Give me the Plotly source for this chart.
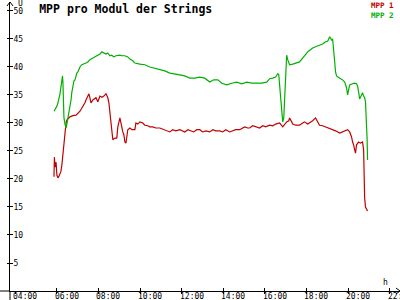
import plotly.graph_objects as go

# ---- data (time in decimal hours, voltage in V) ----
t_mpp1 = [5.86, 5.88, 5.91, 5.96, 6.00, 6.05, 6.10, 6.19, 6.24, 6.29, 6.34, 6.39, 6.44, 6.48, 6.63, 6.77,
          6.92, 7.11, 7.25, 7.35, 7.40, 7.49, 7.54, 7.59, 7.64, 7.73, 7.88, 7.97, 8.07, 8.16, 8.26, 8.36,
          8.45, 8.50, 8.55, 8.60, 8.64, 8.69, 8.79, 8.88, 8.93, 9.03, 9.08, 9.12, 9.17, 9.22, 9.27, 9.32,
          9.36, 9.41, 9.51, 9.61, 9.75, 9.80, 9.89, 9.99, 10.13, 10.23, 10.37, 10.47, 10.61, 10.76, 10.95,
          11.09, 11.19, 11.33, 11.43, 11.57, 11.72, 11.91, 12.05, 12.15, 12.30, 12.44, 12.58, 12.73, 12.87,
          13.01, 13.16, 13.35, 13.50, 13.64, 13.83, 13.98, 14.12, 14.31, 14.46, 14.60, 14.79, 14.94, 15.03,
          15.18, 15.27, 15.42, 15.56, 15.75, 15.90, 16.04, 16.23, 16.38, 16.52, 16.71, 16.86, 16.95, 17.05,
          17.15, 17.19, 17.29, 17.34, 17.48, 17.67, 17.82, 17.91, 18.06, 18.16, 18.30, 18.44, 18.54, 18.63,
          18.78, 18.92, 19.12, 19.26, 19.40, 19.60, 19.74, 19.88, 19.98, 20.08, 20.17, 20.22, 20.27, 20.32,
          20.36, 20.41, 20.51, 20.60, 20.70, 20.75, 20.77, 20.80, 20.84, 20.89, 20.94]
v_mpp1 = [20.4, 23.9, 22.1, 23.0, 20.7, 20.2, 20.5, 21.3, 22.5, 24.6, 27.0, 29.3, 30.0, 30.5, 31.1, 31.3,
          31.4, 32.1, 32.9, 33.6, 34.1, 34.8, 35.2, 34.5, 33.6, 34.1, 34.5, 33.8, 34.8, 34.6, 34.8, 35.2,
          34.5, 33.6, 31.8, 29.6, 27.5, 27.0, 27.3, 27.3, 29.3, 30.9, 30.0, 29.1, 28.4, 27.9, 26.6, 26.4,
          27.9, 28.8, 29.1, 28.8, 28.8, 30.0, 29.8, 30.2, 30.0, 29.6, 29.5, 29.3, 29.3, 29.1, 29.1,
          28.9, 28.8, 28.6, 28.4, 28.8, 28.6, 28.8, 28.6, 28.4, 28.8, 28.6, 28.4, 28.8, 28.8,
          28.4, 28.6, 28.4, 28.8, 28.6, 28.6, 28.4, 28.8, 28.4, 28.6, 28.8, 28.8, 29.1, 29.3,
          29.1, 29.1, 29.5, 29.3, 29.1, 29.5, 29.3, 29.6, 29.5, 29.8, 30.0, 29.3, 29.8, 30.2,
          30.4, 30.9, 30.2, 29.8, 29.6, 29.6, 30.0, 30.2, 29.8, 30.0, 30.4, 30.9, 30.2, 29.6,
          29.5, 29.3, 29.1, 28.8, 28.6, 28.2, 28.4, 28.6, 28.8, 28.4, 27.5, 26.6, 26.1, 25.2,
          24.6, 26.1, 26.6, 26.4, 26.6, 25.2, 20.7, 16.6, 15.0, 14.6, 14.3]

t_mpp2 = [5.86, 5.96, 6.00, 6.05, 6.10, 6.15, 6.19, 6.24, 6.27, 6.29, 6.32, 6.34, 6.39, 6.44, 6.48, 6.53,
          6.58, 6.63, 6.68, 6.72, 6.77, 6.82, 6.87, 6.92, 6.96, 7.01, 7.11, 7.20, 7.30, 7.40, 7.49, 7.59,
          7.73, 7.83, 7.92, 8.07, 8.16, 8.26, 8.36, 8.45, 8.55, 8.64, 8.74, 8.84, 8.93, 9.03, 9.12, 9.27,
          9.41, 9.51, 9.65, 9.75, 9.99, 10.23, 10.47, 10.71, 10.95, 11.19, 11.43, 11.67, 11.91, 12.15,
          12.39, 12.63, 12.87, 13.11, 13.35, 13.54, 13.74, 13.93, 14.17, 14.41, 14.65, 14.89, 15.13,
          15.37, 15.61, 15.85, 16.09, 16.23, 16.38, 16.52, 16.62, 16.67, 16.71, 16.76, 16.81, 16.86,
          16.91, 16.95, 17.00, 17.05, 17.10, 17.19, 17.34, 17.48, 17.58, 17.67, 17.82, 17.91, 18.06,
          18.16, 18.30, 18.44, 18.63, 18.78, 18.92, 19.02, 19.12, 19.16, 19.21, 19.26, 19.31, 19.36,
          19.40, 19.45, 19.60, 19.74, 19.84, 19.93, 19.98, 20.03, 20.08, 20.22, 20.32, 20.41, 20.46,
          20.51, 20.56, 20.60, 20.65, 20.70, 20.75, 20.80, 20.84, 20.89, 20.92, 20.94]
v_mpp2 = [32.1, 32.7, 33.0, 33.6, 34.3, 35.2, 36.3, 37.7, 38.4, 37.3, 34.1, 30.9, 29.8, 29.1, 29.8, 30.9,
          31.8, 32.7, 34.1, 35.5, 36.6, 37.5, 37.7, 38.6, 38.9, 39.1, 40.0, 40.4, 40.5, 40.7, 40.9, 41.3,
          41.6, 41.8, 42.0, 42.3, 42.7, 42.5, 42.3, 42.5, 42.0, 42.1, 41.8, 42.0, 42.1, 42.1, 42.0, 42.0,
          41.8, 41.4, 41.1, 40.7, 40.5, 40.4, 40.0, 39.8, 39.5, 39.3, 38.9, 38.8, 38.6, 38.4,
          38.0, 38.0, 38.2, 38.0, 37.3, 37.7, 37.7, 37.1, 36.8, 37.1, 37.3, 37.0, 37.3,
          37.1, 37.1, 37.1, 37.3, 37.9, 38.0, 38.2, 38.8, 38.6, 36.8, 34.1, 31.4, 30.2,
          30.9, 35.0, 39.5, 42.1, 41.3, 40.4, 40.5, 40.7, 40.9, 40.9, 41.6, 42.1, 42.7,
          43.0, 43.4, 43.6, 43.9, 44.1, 44.5, 44.6, 45.4, 45.2, 44.8, 45.0, 43.4, 40.9,
          39.1, 38.4, 38.0, 37.7, 37.3, 36.3, 35.0, 36.3, 36.8, 37.0, 37.1, 37.0, 36.6,
          35.5, 34.3, 34.6, 35.2, 35.4, 34.8, 34.5, 33.8, 30.2, 27.0, 23.4]

series_names = ["MPP 1", "MPP 2"]
x_tick_vals = [4, 6, 8, 10, 12, 14, 16, 18, 20, 22]
x_tick_text = ["04:00", "06:00", "08:00", "10:00", "12:00", "14:00", "16:00", "18:00", "20:00", "22:00"]
y_tick_vals = [5, 10, 15, 20, 25, 30, 35, 40, 45, 50]

RED = "#c00000"
GREEN = "#00b000"
FONT = "DejaVu Sans Mono"
X_RANGE = [3.745, 22.5]
Y_RANGE = [0, 51.6]

fig = go.Figure()
fig.add_trace(go.Scatter(x=t_mpp1, y=v_mpp1, mode="lines", name=series_names[0],
                         line=dict(color=RED, width=1.2), showlegend=False))
fig.add_trace(go.Scatter(x=t_mpp2, y=v_mpp2, mode="lines", name=series_names[1],
                         line=dict(color=GREEN, width=1.2), showlegend=False))
# invisible trace so the overlaid tick axes get drawn
fig.add_trace(go.Scatter(x=[None], y=[None], xaxis="x2", yaxis="y2", showlegend=False, hoverinfo="skip"))

tickfont = dict(family=FONT, size=8, color="black")
fig.update_layout(
    width=400, height=300,
    margin=dict(l=10, r=0, t=2, b=9, pad=0),
    paper_bgcolor="white", plot_bgcolor="white",
    title=dict(text="<b>MPP pro Modul der Strings</b>", x=0.098, xanchor="left", xref="container",
               y=1 - 8.5 / 300, yanchor="middle", yref="container",
               font=dict(family=FONT, size=11.5, color="black")),
    xaxis=dict(range=X_RANGE, tickvals=x_tick_vals, showticklabels=False, showgrid=False, zeroline=False,
               showline=True, linecolor="black", linewidth=1, ticks="inside", ticklen=3, tickcolor="black",
               automargin=False),
    yaxis=dict(range=Y_RANGE, tickvals=y_tick_vals, showgrid=False, zeroline=False,
               showline=True, linecolor="black", linewidth=1, ticks="outside", ticklen=2, tickcolor="black",
               tickfont=tickfont, ticklabelposition="inside", ticklabelstandoff=2, automargin=False),
    xaxis2=dict(range=X_RANGE, overlaying="x", side="bottom", tickvals=x_tick_vals, showticklabels=False,
                ticks="outside", ticklen=2, tickcolor="black", showgrid=False, zeroline=False, showline=False),
    yaxis2=dict(range=Y_RANGE, overlaying="y", side="left", tickvals=y_tick_vals, showticklabels=False,
                ticks="inside", ticklen=3, tickcolor="black", showgrid=False, zeroline=False, showline=False),
    showlegend=False,
)

# x tick labels, left-aligned at each tick (placed via the x scale)
for tv, tt in zip(x_tick_vals, x_tick_text):
    fig.add_annotation(xref="x", yref="paper", x=tv, y=0, xanchor="left", yanchor="middle",
                       xshift=-4, yshift=-5, text=tt, showarrow=False, font=tickfont)

legend_text = "<br>".join(
    f"<span style='color:{c}'><b>{n}</b></span>" for n, c in zip(series_names, [RED, GREEN]))
fig.add_annotation(xref="paper", yref="paper", xanchor="right", yanchor="top", showarrow=False,
                   x=0.99, y=1.01, text=legend_text, align="right",
                   font=dict(family=FONT, size=7.5, color=RED))
fig.add_annotation(xref="paper", yref="paper", x=0.016, y=0.995, xanchor="left", yanchor="middle",
                   text="U", showarrow=False, font=dict(family=FONT, size=8, color="black"))
fig.add_annotation(xref="paper", yref="paper", x=0.962, y=0.028, xanchor="center", yanchor="middle",
                   text="h", showarrow=False, font=dict(family=FONT, size=8, color="black"))

# axis arrow heads and axis-line overhangs
fig.add_shape(type="path", xref="paper", yref="paper", xsizemode="pixel", ysizemode="pixel",
              xanchor=0, yanchor=1, path="M -3 -4 L 0 0 L 3 -4", line=dict(color="black", width=1))
fig.add_shape(type="path", xref="paper", yref="paper", xsizemode="pixel", ysizemode="pixel",
              xanchor=1, yanchor=0, path="M -4 3 L 0 0 L -4 -3", line=dict(color="black", width=1))
fig.add_shape(type="line", xref="paper", yref="paper", x0=-10 / 390, x1=0, y0=0, y1=0,
              line=dict(color="black", width=1))
fig.add_shape(type="line", xref="paper", yref="paper", x0=0, x1=0, y0=-9 / 289, y1=0,
              line=dict(color="black", width=1))

fig.write_html("out.html")
